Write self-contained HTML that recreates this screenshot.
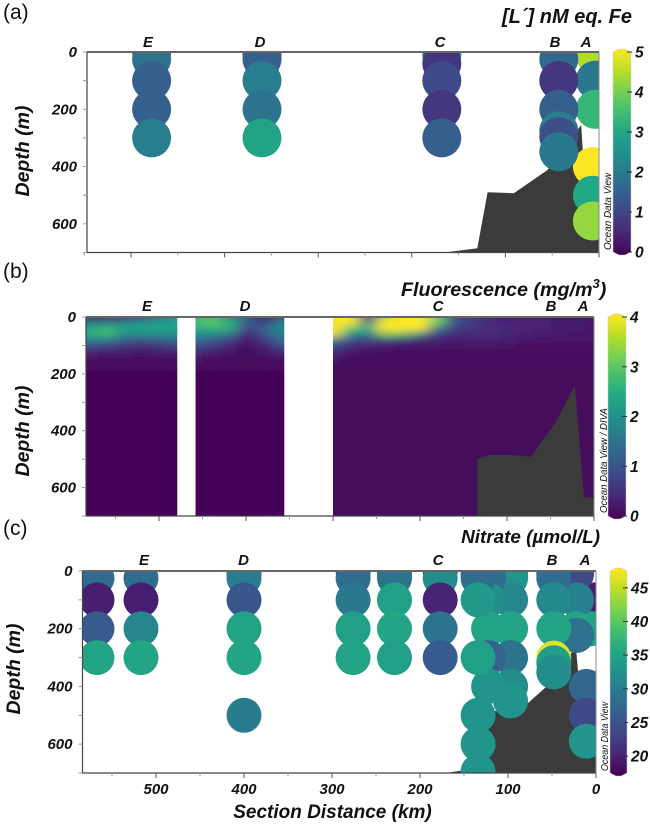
<!DOCTYPE html>
<html><head><meta charset="utf-8"><title>Section plots</title>
<style>
html,body{margin:0;padding:0;background:#fff;width:650px;height:824px;overflow:hidden}
svg{display:block}
text{font-family:"Liberation Sans",sans-serif;fill:#111}
.bi{font-weight:bold;font-style:italic}
</style></head><body>
<svg id="fig" width="650" height="824" viewBox="0 0 650 824" xmlns="http://www.w3.org/2000/svg">
<defs>
<filter id="soft" filterUnits="userSpaceOnUse" x="40" y="280" width="600" height="280"><feGaussianBlur stdDeviation="7 4"/></filter>
<clipPath id="clip-a"><rect x="87" y="52" width="512" height="200.5"/></clipPath>
<clipPath id="clip-b"><rect x="86" y="317" width="508" height="199"/></clipPath>
<clipPath id="clip-c"><rect x="82.5" y="571" width="513.5" height="202"/></clipPath>
<linearGradient id="viridis-grad" x1="0" y1="1" x2="0" y2="0">
<stop offset="0" stop-color="#440154"/><stop offset=".1" stop-color="#482475"/><stop offset=".2" stop-color="#414487"/><stop offset=".3" stop-color="#355f8d"/><stop offset=".4" stop-color="#2a788e"/><stop offset=".5" stop-color="#21918c"/><stop offset=".6" stop-color="#22a884"/><stop offset=".7" stop-color="#44bf70"/><stop offset=".8" stop-color="#7ad151"/><stop offset=".9" stop-color="#bddf26"/><stop offset="1" stop-color="#fde725"/>
</linearGradient>
</defs>
<text x="3" y="19" font-size="21">(a)</text>
<text x="3" y="278" font-size="21">(b)</text>
<text x="3" y="535" font-size="21">(c)</text>
<text class="bi" x="632" y="23" font-size="20" text-anchor="end">[L´] nM eq. Fe</text>
<text class="bi" x="401" y="296" font-size="19.7">Fluorescence (mg/m<tspan dy="-8" font-size="13">3</tspan><tspan dy="8">)</tspan></text>
<text class="bi" x="600" y="543" font-size="18.9" text-anchor="end">Nitrate (µmol/L)</text>
<text class="bi" transform="translate(29,151) rotate(-90)" font-size="19.5" text-anchor="middle">Depth (m)</text>
<text class="bi" transform="translate(29,431) rotate(-90)" font-size="19.5" text-anchor="middle">Depth (m)</text>
<text class="bi" transform="translate(20,669) rotate(-90)" font-size="19.5" text-anchor="middle">Depth (m)</text>
<text class="bi" x="332.5" y="818" font-size="19" text-anchor="middle">Section Distance (km)</text>
<text transform="translate(611,250) rotate(-90)" font-size="10" font-style="italic" textLength="77" lengthAdjust="spacingAndGlyphs">Ocean Data View</text>
<text transform="translate(607,513) rotate(-90)" font-size="10" font-style="italic" textLength="105" lengthAdjust="spacingAndGlyphs">Ocean Data View / DIVA</text>
<text transform="translate(608,771) rotate(-90)" font-size="10" font-style="italic" textLength="69" lengthAdjust="spacingAndGlyphs">Ocean Data View</text>
</svg>
<script>
/* ---------- shared axis data ---------- */
const depthTicks = [0, 200, 400, 600];
const depthMinorTicks = [100, 300, 500, 700];
const distanceTicks = [500, 400, 300, 200, 100, 0];
const distanceMinorTicks = [550, 450, 350, 250, 150, 50];
const stationNames = ['E', 'D', 'C', 'B', 'A'];

/* ---------- panel a: ligand ---------- */
const ligandKm    = [4,4,4,7,7,7,43,43,43,43,43,43,168,168,168,168,168,360,360,360,360,360,478,478,478,478,478];
const ligandDepth = [10,98,200,400,500,590,25,100,200,275,296,348,10,40,100,200,300,10,25,100,200,300,0,25,100,200,300];
const ligandValue = [4.4,2.0,3.3,5,3.0,4.2,1.7,0.8,1.5,2.1,1.2,2.0,2.0,0.75,1.15,0.8,1.5,1.4,1.5,2.1,1.9,2.9,1.0,1.9,1.5,1.5,2.1];
const ligandTerrainKm    = [160,130,119,91,55,19,12,0];
const ligandTerrainDepth = [698,685,490,493,412,255,635,635];
const ligandBarTicks = [0,1,2,3,4,5];

/* ---------- panel b: fluorescence ---------- */
const fluorKm = [580,560,540,520,500,480,460,440,420,400,380,360,340,320,300,280,260,240,220,200,180,160,140,120,100,80,60,40,20,0];
const fluorDepth = [0,20,40,60,80,100,125,150,175,200,700];
const fluor0   = [.3,.2,.5,.9,1.6,2,2.6,2.9,1.9,1.2,.1,.8,1.5,3,5,5,.5,3.5,5,5,3,1,.7,.4,.3,.3,.3,.25,.25,.2];
const fluor20  = [1.5,1.6,1.8,2,2.2,2.2,2.8,3,2.6,1.2,.9,1.6,2,3,5,5,1.6,5,5,5,3.2,.9,.7,.5,.4,.4,.35,.3,.3,.25];
const fluor40  = [2.4,2.7,2.3,2.3,2.3,2.3,2.5,2.6,2.6,.8,1.2,1.9,2,3,5,3,2.6,5,5,4,1.4,.7,.6,.5,.5,.4,.4,.3,.3,.25];
const fluor60  = [2.5,2.8,2,2,2,2,2,1.9,1.6,.4,1,1.7,1.8,2.4,4,2,1.6,3.2,3,1.8,.8,.5,.5,.5,.45,.35,.3,.3,.25,.2];
const fluor80  = [1.8,1.6,1.2,1,1.2,1.4,1.5,1.2,.8,.2,.6,1.4,1.4,1.6,1.8,.9,.8,.7,.5,.4,.3,.3,.35,.35,.3,.25,.25,.2,.2,.2];
const fluor100 = [.9,.8,.6,.5,.6,.8,1,.7,.4,.15,.3,.9,.9,.9,.9,.5,.4,.3,.2,.2,.2,.2,.2,.2,.2,.15,.15,.15,.15,.15];
const fluor125 = [.4,.3,.3,.2,.3,.3,.5,.3,.2,.1,.2,.4,.4,.5,.5,.2,.15,.15,.15,.15,.15,.15,.15,.15,.15,.15,.15,.15,.15,.15];
const fluor150 = [.15,.12,.12,.12,.12,.12,.2,.12,.12,.1,.12,.15,.2,.2,.2,.12,.12,.12,.12,.12,.12,.12,.12,.12,.12,.12,.12,.12,.12,.12];
const fluor175 = [.08,.08,.08,.08,.08,.08,.09,.09,.09,.09,.09,.09,.1,.1,.1,.1,.1,.1,.1,.1,.1,.1,.1,.1,.1,.1,.1,.1,.1,.1];
const fluor200 = [.05,.05,.05,.05,.05,.05,.06,.06,.06,.06,.06,.06,.08,.08,.08,.08,.08,.08,.08,.08,.08,.08,.08,.08,.08,.08,.08,.08,.08,.08];
const fluor700 = [.05,.05,.05,.05,.05,.05,.06,.06,.06,.06,.06,.06,.08,.08,.08,.08,.08,.08,.08,.08,.08,.08,.08,.08,.08,.08,.08,.08,.08,.08];
const fluorRows = [fluor0,fluor20,fluor40,fluor60,fluor80,fluor100,fluor125,fluor150,fluor175,fluor200,fluor700];
const fluorGapFromKm = [479,356];
const fluorGapToKm   = [458,300];
const fluorTerrainKm    = [134,134,121,96,73,45,22,11.5,0];
const fluorTerrainDepth = [700,500,485,485,492,375,240,635,635];
const fluorBarTicks = [0,1,2,3,4];

/* ---------- panel c: nitrate ---------- */
const nitrateKm    = [3,5,11,11,11,22,22,22,22,48,48,48,48,48,48,48,97,97,97,97,97,97,97,122,122,122,122,122,134,134,134,134,134,134,134,177,177,177,177,177,229,229,229,229,229,276,276,276,276,276,400,400,400,400,400,400,517,517,517,517,567,567,567,567];
const nitrateDepth = [100,200,400,500,590,10,100,200,223,10,25,100,200,302,318,350,10,25,100,200,300,400,450,25,100,200,300,400,10,25,100,300,500,600,695,0,25,100,200,300,10,25,100,200,300,0,25,100,200,300,10,25,100,200,300,500,25,100,200,300,25,100,200,300];
const nitrateValue = [20,35,27.5,24,33,24,30.5,35,28.5,27.5,28,31.5,35,46,34,32,29,33,31,35,29,32,33,28,32,35,27,33,28,28,33.5,34.5,33,33,33,20,32,20.5,29,26,29,29,34.5,35,34.5,20,28,29.5,34.5,35,29,30,25.5,35,35,30,28,20,31,35,28,20,26,35];
const nitrateTerrainKm    = [170,150,140,133,121,96,77,56,47,23,12,0];
const nitrateTerrainDepth = [700,690,685,500,485,485,457,400,375,260,635,635];
const nitrateBarTicks = [20,25,30,35,40,45];

/* ---------- helpers ---------- */
const NS = 'http://www.w3.org/2000/svg';
const fig = document.getElementById('fig');
function mk(tag, attrs, parent){
  const e = document.createElementNS(NS, tag);
  for (const k in attrs) e.setAttribute(k, attrs[k]);
  (parent || fig).appendChild(e);
  return e;
}
const stops = ['#440154','#482475','#414487','#355f8d','#2a788e','#21918c','#22a884','#44bf70','#7ad151','#bddf26','#fde725'];
function viridis(t){
  t = Math.max(0, Math.min(1, t)) * 10;
  const i = Math.min(9, Math.floor(t)), f = t - i;
  const a = parseInt(stops[i].slice(1), 16), b = parseInt(stops[i+1].slice(1), 16);
  const c = s => Math.round(((a >> s) & 255) * (1 - f) + ((b >> s) & 255) * f);
  return 'rgb(' + c(16) + ',' + c(8) + ',' + c(0) + ')';
}
function scales(p){
  return {
    x: d => p.right - (p.right - p.x100) * d / 100,
    y: d => p.top + (p.bottom - p.top) * d / 700
  };
}
function drawTerrain(p, kms, depths){
  const s = scales(p);
  const pts = kms.map((k, i) => s.x(k).toFixed(1) + ',' + s.y(depths[i]).toFixed(1));
  pts.push(p.right + ',' + p.bottom);
  pts.push(s.x(kms[0]).toFixed(1) + ',' + p.bottom);
  const t = mk('polygon', {points: pts.join(' '), fill: '#3b3b3b'}, p.group);
  
  
}
function drawPoints(p, kms, depths, values, vmin, vmax, r){
  const s = scales(p);
  kms.forEach((k, i) => {
    const c = mk('circle', {cx: s.x(k).toFixed(1), cy: s.y(depths[i]).toFixed(1), r: r, fill: viridis((values[i] - vmin) / (vmax - vmin))}, p.group);
    
    
  });
}
function drawAxes(p){
  const s = scales(p);
  const top = mk('line', {x1: p.left, x2: p.right, y1: p.top, y2: p.top, stroke: '#666', 'stroke-width': 2});
  
  
  const bot = mk('line', {x1: p.left, x2: p.right, y1: p.bottom, y2: p.bottom, stroke: '#444', 'stroke-width': 1.2});
  
  
  const lft = mk('line', {x1: p.left, x2: p.left, y1: p.top, y2: p.bottom, stroke: '#444', 'stroke-width': 1.2});
  
  
  const rgt = mk('line', {x1: p.right, x2: p.right, y1: p.top, y2: p.bottom, stroke: '#888', 'stroke-width': 1});
  
  
  depthTicks.concat(depthMinorTicks).forEach(d => {
    const t = mk('line', {x1: p.left - 4, x2: p.left, y1: s.y(d), y2: s.y(d), stroke: '#999', 'stroke-width': 1});
    
    
  });
  depthTicks.forEach(d => {
    const t = mk('text', {x: p.left - 10, y: s.y(d) + 5, 'font-size': 15, 'text-anchor': 'end', class: 'bi'});
    t.textContent = d;
    
    
  });
  distanceTicks.forEach(d => {
    const t = mk('line', {x1: s.x(d), x2: s.x(d), y1: p.bottom, y2: p.bottom + 5, stroke: '#555', 'stroke-width': 1});
    
    
    if (p.xLabels) {
      const l = mk('text', {x: s.x(d), y: p.bottom + 21, 'font-size': 15, 'text-anchor': 'middle', class: 'bi'});
      l.textContent = d;
      
      
    }
  });
  distanceMinorTicks.forEach(d => {
    const t = mk('line', {x1: s.x(d), x2: s.x(d), y1: p.bottom, y2: p.bottom + 3, stroke: '#999', 'stroke-width': 1});
    
    
  });
  stationNames.forEach((n, i) => {
    const l = mk('text', {x: p.stationX[i], y: p.stationY, 'font-size': 15, 'text-anchor': 'middle', class: 'bi'});
    l.textContent = n;
    
    
  });
}
function drawBar(b, ticks, vmin, vmax){
  const m = 3;
  const pts = [[b.x0, b.y1], [b.x0, b.y0], [b.x0 + 6, b.y0 - m], [b.x1 - 6, b.y0 - m], [b.x1, b.y0], [b.x1, b.y1], [b.x1 - 6, b.y1 + m], [b.x0 + 6, b.y1 + m]];
  const bar = mk('polygon', {points: pts.map(q => q.join(',')).join(' '), fill: 'url(#viridis-grad)', stroke: '#ccc', 'stroke-width': .5});
  
  
  ticks.forEach(v => {
    const y = b.y1 + (b.y0 - b.y1) * (v - vmin) / (vmax - vmin);
    const t = mk('line', {x1: b.x1 - 4, x2: b.x1 + 1, y1: y, y2: y, stroke: '#333', 'stroke-width': 1});
    
    
    const l = mk('text', {x: b.x1 + 4, y: y + 5.5, 'font-size': 15.5, class: 'bi'});
    l.textContent = v;
    
    
  });
}

/* ---------- panel a ---------- */
const gA = mk('g', {'clip-path': 'url(#clip-a)'});


const pA = {left: 87, right: 599, x100: 505.4, top: 52, bottom: 252.5, group: gA, xLabels: false, stationX: [148, 260, 440, 555, 586], stationY: 47};
drawTerrain(pA, ligandTerrainKm, ligandTerrainDepth);
drawPoints(pA, ligandKm, ligandDepth, ligandValue, 0, 5, 19.5);
drawAxes(pA);
drawBar({x0: 613, x1: 631, y0: 52, y1: 252}, ligandBarTicks, 0, 5);

/* ---------- panel b ---------- */
const gB = mk('g', {'clip-path': 'url(#clip-b)'});


const pB = {left: 86, right: 594, x100: 507, top: 317, bottom: 516, group: gB, xLabels: false, stationX: [147, 245, 438, 551, 583], stationY: 311};
const sB = scales(pB);
const heat = mk('g', {filter: 'url(#soft)'}, gB);


fluorRows.forEach((row, r) => {
  const d0 = r === 0 ? -60 : (fluorDepth[r - 1] + fluorDepth[r]) / 2;
  const d1 = r === fluorDepth.length - 1 ? 800 : (fluorDepth[r] + fluorDepth[r + 1]) / 2;
  row.forEach((v, c) => {
    const k0 = c === 0 ? 640 : (fluorKm[c - 1] + fluorKm[c]) / 2;
    const k1 = c === fluorKm.length - 1 ? -40 : (fluorKm[c] + fluorKm[c + 1]) / 2;
    const cell = mk('rect', {x: sB.x(k0).toFixed(1), y: sB.y(d0).toFixed(1), width: (sB.x(k1) - sB.x(k0) + .5).toFixed(1), height: (sB.y(d1) - sB.y(d0) + .5).toFixed(1), fill: viridis(v / 4)}, heat);
    
    
  });
});
fluorGapFromKm.forEach((k, i) => {
  const g = mk('rect', {x: sB.x(k), y: pB.top - 1, width: sB.x(fluorGapToKm[i]) - sB.x(k), height: pB.bottom - pB.top + 2, fill: '#fff'}, gB);
  
  
});
drawTerrain(pB, fluorTerrainKm, fluorTerrainDepth);
drawAxes(pB);
drawBar({x0: 608, x1: 626, y0: 317, y1: 516}, fluorBarTicks, 0, 4);

/* ---------- panel c ---------- */
const gC = mk('g', {'clip-path': 'url(#clip-c)'});


const pC = {left: 82.5, right: 596, x100: 508, top: 571, bottom: 773, group: gC, xLabels: true, stationX: [144, 243.5, 438, 552, 585], stationY: 565};
drawTerrain(pC, nitrateTerrainKm, nitrateTerrainDepth);
drawPoints(pC, nitrateKm, nitrateDepth, nitrateValue, 17.5, 47.5, 17.5);
drawAxes(pC);
drawBar({x0: 610, x1: 627, y0: 571, y1: 773}, nitrateBarTicks, 17.5, 47.5);
</script>
</body></html>
